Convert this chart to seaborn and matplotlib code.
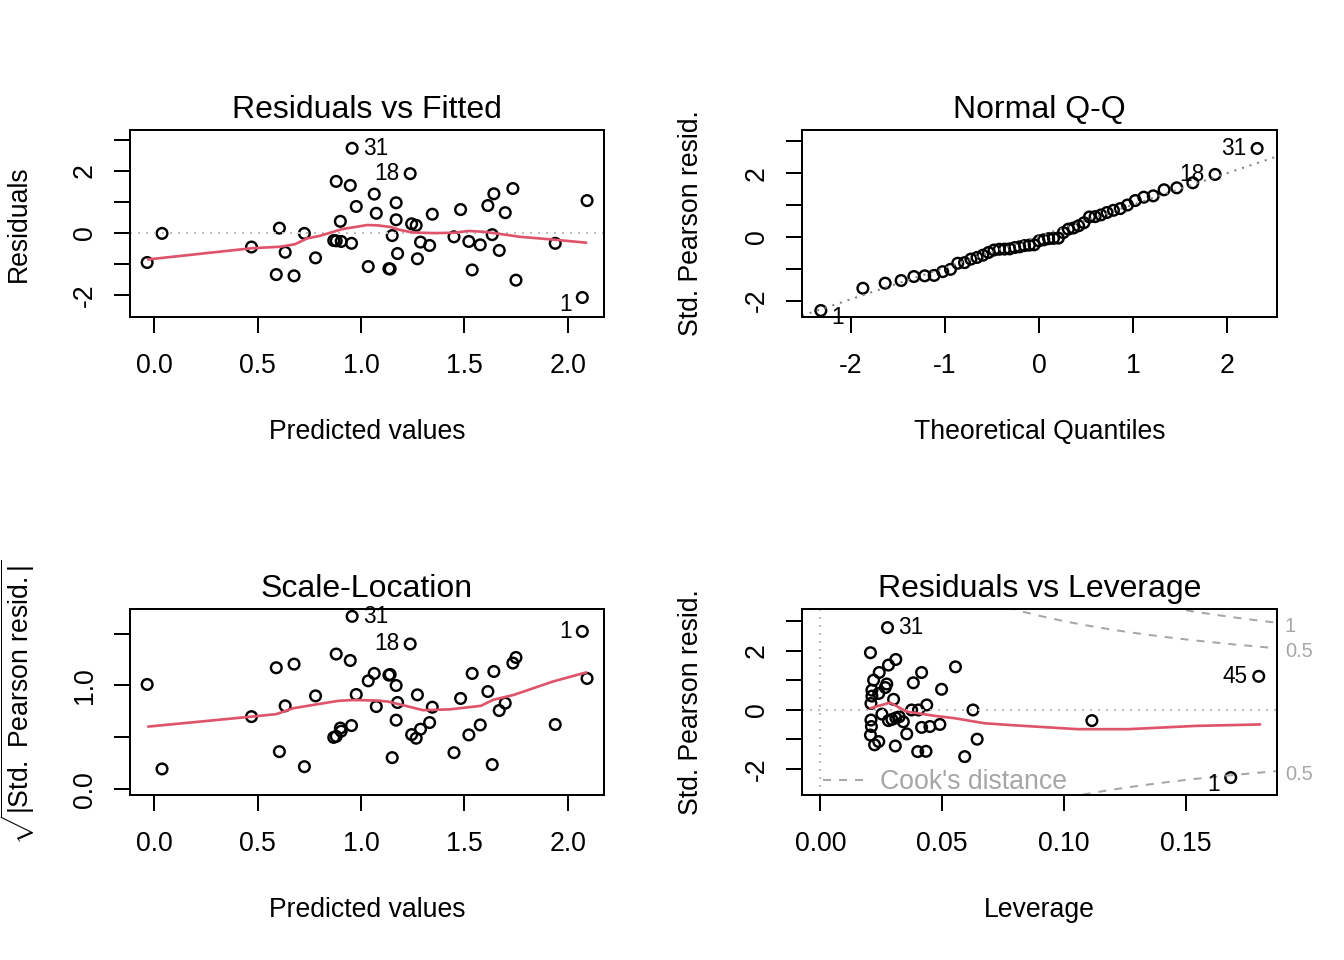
import numpy as np
import matplotlib
matplotlib.use("Agg")
import matplotlib.pyplot as plt
from matplotlib.lines import Line2D
import seaborn as sns
from statistics import NormalDist

fitted = [-0.035, 0.037, 0.47, 0.59, 0.605, 0.633, 0.676, 0.726, 0.78, 0.868,
          0.88, 0.88, 0.90, 0.904, 0.948, 0.954, 0.957, 0.977, 1.035, 1.064,
          1.074, 1.135, 1.141, 1.151, 1.17, 1.17, 1.177, 1.238, 1.245, 1.267,
          1.273, 1.288, 1.332, 1.345, 1.45, 1.482, 1.522, 1.538, 1.577, 1.614,
          1.635, 1.643, 1.669, 1.698, 1.735, 1.75, 1.94, 2.071, 2.094]
resid = [-0.96, -0.02, -0.46, -1.35, 0.15, -0.63, -1.39, -0.02, -0.81, -0.25,
         1.66, -0.26, 0.37, -0.28, 1.53, -0.34, 2.73, 0.85, -1.09, 1.25,
         0.63, -1.16, -1.17, -0.09, 0.97, 0.42, -0.67, 1.91, 0.29, 0.24,
         -0.84, -0.30, -0.41, 0.60, -0.13, 0.75, -0.28, -1.20, -0.39, 0.88,
         -0.06, 1.26, -0.57, 0.65, 1.43, -1.53, -0.34, -2.09, 1.04]
sqrt_std = [1.01, 0.196, 0.70, 1.171, 0.363, 0.804, 1.206, 0.218, 0.90, 0.50,
            1.303, 0.51, 0.59, 0.56, 1.241, 0.614, 1.666, 0.913, 1.045, 1.116,
            0.797, 1.10, 1.106, 0.305, 1.0, 0.666, 0.836, 1.40, 0.527, 0.492,
            0.91, 0.579, 0.643, 0.791, 0.353, 0.875, 0.524, 1.116, 0.62, 0.942,
            0.238, 1.135, 0.759, 0.83, 1.216, 1.27, 0.624, 1.521, 1.068]
flag_idx = [16, 27, 47]
flag_txt = ["31", "18", "1"]

leverage = [0.0276, 0.0206, 0.0310, 0.0280, 0.0242, 0.0555, 0.0416, 0.0219, 0.0273, 0.0267,
            0.0382, 0.0498, 0.0212, 0.0212, 0.0240, 0.0301, 0.0208, 0.0437, 0.0627, 0.0375,
            0.0403, 0.0253, 0.0208, 0.0280, 0.0294, 0.0310, 0.0324, 0.0341, 0.0210, 0.0416,
            0.0450, 0.0491, 0.0355, 0.0206, 0.0240, 0.0223, 0.0308, 0.0400, 0.0434, 0.0593,
            0.0644, 0.1115, 0.1685, 0.1800]
lev_std = [2.78, 1.93, 1.70, 1.51, 1.26, 1.45, 1.26, 1.00, 0.87, 0.75,
           0.91, 0.69, 0.66, 0.46, 0.55, 0.35, 0.21, 0.16, -0.01, -0.01,
           -0.01, -0.15, -0.35, -0.37, -0.33, -0.28, -0.24, -0.41, -0.57, -0.60,
           -0.57, -0.50, -0.82, -0.86, -1.08, -1.19, -1.23, -1.42, -1.41, -1.59,
           -1.00, -0.37, -2.30, 1.13]
lev_flag_idx = [0, 42, 43]
lev_flag_txt = ["31", "1", "45"]

# red smoother curves as drawn in the reference
smooth_fit_x = [-0.03, 0.47, 0.61, 0.68, 0.74, 0.80, 0.91, 1.03, 1.08, 1.14,
                1.19, 1.25, 1.35, 1.45, 1.52, 1.60, 1.77, 1.93, 2.09]
smooth_fit_y = [-0.86, -0.50, -0.45, -0.37, -0.18, -0.10, 0.12, 0.25, 0.24, 0.19,
                0.09, 0.01, -0.01, 0.0, 0.06, 0.03, -0.13, -0.22, -0.32]
smooth_sl_x = [-0.03, 0.47, 0.59, 0.67, 0.79, 0.89, 0.96, 1.08, 1.13, 1.21,
               1.30, 1.43, 1.58, 1.64, 1.74, 1.93, 2.09]
smooth_sl_y = [0.604, 0.70, 0.724, 0.78, 0.82, 0.852, 0.86, 0.855, 0.845, 0.807,
               0.762, 0.77, 0.804, 0.862, 0.91, 1.039, 1.126]
smooth_lev_x = [0.0206, 0.0287, 0.0355, 0.0423, 0.0470, 0.0552, 0.0674, 0.0778,
                0.1056, 0.1264, 0.154, 0.1806]
smooth_lev_y = [0.05, 0.24, -0.07, -0.15, -0.21, -0.29, -0.46, -0.52,
                -0.66, -0.66, -0.55, -0.50]

cook_levels = [0.5, 1.0]
n_params = 2

RED = "#DF536B"
LIGHT = "#BEBEBE"
COOK = "#A6A6A6"

sns.set_style("ticks")
plt.rcParams["font.family"] = ["Liberation Sans", "DejaVu Sans"]
plt.rcParams["mathtext.fontset"] = "custom"
plt.rcParams["mathtext.rm"] = "Liberation Sans"
plt.rcParams["mathtext.it"] = "Liberation Sans:italic"
plt.rcParams["mathtext.bf"] = "Liberation Sans:bold"
plt.rcParams["axes.unicode_minus"] = False
for key in ["text.color", "axes.labelcolor", "xtick.color", "ytick.color",
            "xtick.labelcolor", "ytick.labelcolor"]:
    plt.rcParams[key] = "black"

fig = plt.figure(figsize=(7, 5), dpi=192)
W, H = 1344, 960


def panel(left, top, right, bottom):
    return fig.add_axes([left / W, 1 - bottom / H, (right - left) / W, (bottom - top) / H])


def r_style(ax, title, xlabel, ylabel, ylabelpad=15):
    for s in ax.spines.values():
        s.set_linewidth(0.75)
        s.set_color("black")
    ax.tick_params(direction="out", length=6, width=0.75, labelsize=10, colors="black")
    ax.tick_params(axis="x", pad=7.5)
    ax.tick_params(axis="y", pad=6)
    for lab in ax.get_yticklabels():
        lab.set_rotation(90)
        lab.set_va("center")
    ax.set_title(title, fontsize=12, pad=4.5, color="black")
    ax.set_xlabel(xlabel, fontsize=10, labelpad=15, color="black")
    ax.set_ylabel(ylabel, fontsize=10, labelpad=ylabelpad, color="black")


def open_points(ax, x, y):
    sns.scatterplot(x=x, y=y, ax=ax, marker="o", s=16, facecolors="none",
                    edgecolor="black", linewidth=0.9, legend=False)


def label_points(ax, x, y, idx, txt):
    mid = (min(x) + max(x)) / 2
    for i, t in zip(idx, txt):
        right = x[i] < mid
        dy = -2.5 if y[i] < 0 else 0
        ax.annotate(t, (x[i], y[i]), xytext=(4 if right else -4, dy),
                    textcoords="offset points", ha="left" if right else "right",
                    va="center", fontsize=8.5, color="black")


def tick_labels(ax, axis, ticks, shown):
    labels = [f"{t:g}" if t in shown else "" for t in ticks]
    if axis == "y":
        ax.set_yticks(ticks)
        ax.set_yticklabels(labels)
    else:
        ax.set_xticks(ticks)
        ax.set_xticklabels(labels)


fitted_a = np.array(fitted)
resid_a = np.array(resid)
sl_a = np.array(sqrt_std)
std_resid = np.sign(resid_a) * sl_a ** 2

# Residuals vs Fitted
ax1 = panel(130, 130, 604, 317)
ax1.axhline(0, color=LIGHT, lw=0.75, ls=(0, (1, 3)))
open_points(ax1, fitted_a, resid_a)
sns.lineplot(x=smooth_fit_x, y=smooth_fit_y, ax=ax1, color=RED, lw=1.0,
             sort=False, estimator=None)
label_points(ax1, fitted_a, resid_a, flag_idx, flag_txt)
ax1.set_xlim(-0.118, 2.176)
ax1.set_ylim(-2.72, 3.32)
ax1.set_xticks([0, 0.5, 1, 1.5, 2])
ax1.set_xticklabels(["0.0", "0.5", "1.0", "1.5", "2.0"])
tick_labels(ax1, "y", [-2, -1, 0, 1, 2, 3], [-2, 0, 2])
r_style(ax1, "Residuals vs Fitted", "Predicted values", "Residuals")

# Normal Q-Q
n = len(std_resid)
probs = (np.arange(1, n + 1) - 0.5) / n
theo_sorted = np.array([NormalDist().inv_cdf(p) for p in probs])
theo = theo_sorted[np.argsort(np.argsort(std_resid))]
yq = np.quantile(std_resid, [0.25, 0.75])
xq = [NormalDist().inv_cdf(0.25), NormalDist().inv_cdf(0.75)]
slope = (yq[1] - yq[0]) / (xq[1] - xq[0])

ax2 = panel(802, 130, 1277, 317)
ax2.axline((xq[0], yq[0]), slope=slope, color="#7F7F7F", lw=0.75, ls=(0, (1, 3)))
open_points(ax2, theo, std_resid)
label_points(ax2, theo, std_resid, flag_idx, flag_txt)
ax2.set_xlim(-2.519, 2.53)
ax2.set_ylim(-2.516, 3.355)
ax2.set_xticks([-2, -1, 0, 1, 2])
tick_labels(ax2, "y", [-2, -1, 0, 1, 2, 3], [-2, 0, 2])
r_style(ax2, "Normal Q-Q", "Theoretical Quantiles", "Std. Pearson resid.")

# Scale-Location
ax3 = panel(130, 609, 604, 795)
open_points(ax3, fitted_a, sl_a)
sns.lineplot(x=smooth_sl_x, y=smooth_sl_y, ax=ax3, color=RED, lw=1.0,
             sort=False, estimator=None)
label_points(ax3, fitted_a, sl_a, flag_idx, flag_txt)
ax3.set_xlim(-0.118, 2.176)
ax3.set_ylim(-0.055, 1.737)
ax3.set_xticks([0, 0.5, 1, 1.5, 2])
ax3.set_xticklabels(["0.0", "0.5", "1.0", "1.5", "2.0"])
ax3.set_yticks([0, 0.5, 1.0, 1.5])
ax3.set_yticklabels(["0.0", "", "1.0", ""])
r_style(ax3, "Scale-Location", "Predicted values",
        r"$\sqrt{|\mathrm{Std.\ Pearson\ resid.}|}$", ylabelpad=13)

# Residuals vs Leverage
lev_a = np.array(leverage)
lstd_a = np.array(lev_std)
ax4 = panel(802, 609, 1277, 795)
xlim4 = (-0.0075, 0.1875)
ylim4 = (-2.89, 3.41)
ax4.axhline(0, color=LIGHT, lw=0.75, ls=(0, (1, 3)))
ax4.axvline(0, color=LIGHT, lw=0.75, ls=(0, (1, 3)))
hh = np.linspace(0.0005, xlim4[1], 300)
for lvl in cook_levels:
    cl = np.sqrt(lvl * n_params * (1 - hh) / hh)
    ax4.plot(hh, cl, color=COOK, lw=0.75, ls=(0, (4, 4)))
    ax4.plot(hh, -cl, color=COOK, lw=0.75, ls=(0, (4, 4)))
    edge = np.sqrt(lvl * n_params * (1 - xlim4[1]) / xlim4[1])
    for yy in (edge, -edge):
        if ylim4[0] < yy < ylim4[1]:
            ax4.annotate(f"{lvl:g}", (1, yy), xycoords=("axes fraction", "data"),
                         xytext=(3, -1.3), textcoords="offset points", ha="left",
                         va="center", fontsize=7.5, color=COOK)
open_points(ax4, lev_a, lstd_a)
sns.lineplot(x=smooth_lev_x, y=smooth_lev_y, ax=ax4, color=RED, lw=1.0,
             sort=False, estimator=None)
label_points(ax4, lev_a, lstd_a, lev_flag_idx, lev_flag_txt)
ax4.set_xlim(*xlim4)
ax4.set_ylim(*ylim4)
ax4.set_xticks([0, 0.05, 0.10, 0.15])
ax4.set_xticklabels(["0.00", "0.05", "0.10", "0.15"])
tick_labels(ax4, "y", [-2, -1, 0, 1, 2, 3], [-2, 0, 2])
ax4.legend(handles=[Line2D([], [], color=COOK, lw=0.75, ls=(0, (4, 4)))],
           labels=["Cook's distance"], loc="lower left", bbox_to_anchor=(0.044, 0.0),
           frameon=False, borderpad=0, borderaxespad=0, handlelength=1.65,
           handletextpad=0.5, fontsize=10, labelcolor=COOK)
r_style(ax4, "Residuals vs Leverage", "Leverage", "Std. Pearson resid.")

fig.savefig("out.png", dpi=192)
